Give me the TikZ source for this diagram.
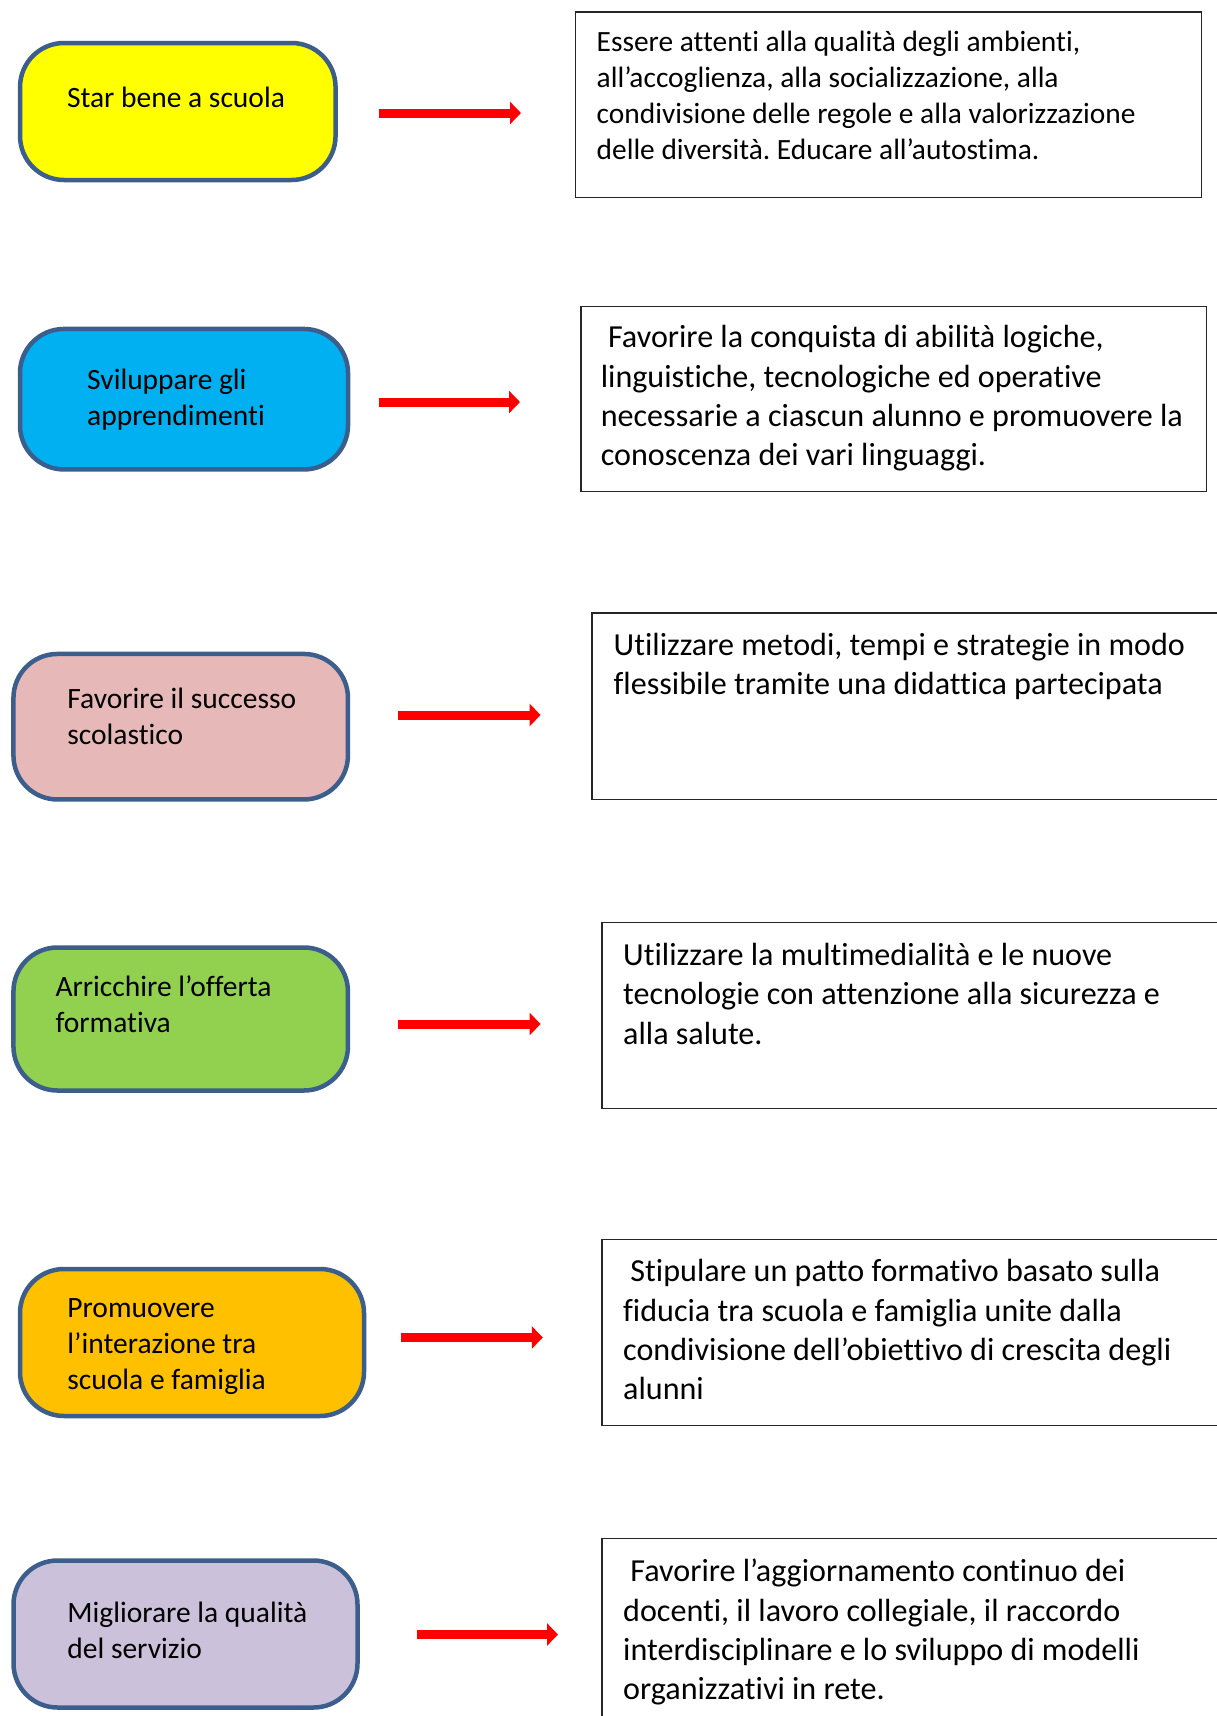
\documentclass[tikz,border=0pt]{standalone}
\usepackage{fontspec}
\setmainfont{Carlito}[Ligatures=NoCommon]
\usetikzlibrary{arrows.meta}
\definecolor{boxblue}{HTML}{3B5E8C}
\definecolor{cyellow}{HTML}{FFFF00}
\definecolor{cblue}{HTML}{00B0F0}
\definecolor{cpink}{HTML}{E6B9B8}
\definecolor{cgreen}{HTML}{92D050}
\definecolor{corange}{HTML}{FFC000}
\definecolor{cpurple}{HTML}{CCC1DA}
\definecolor{cred}{HTML}{FF0000}
\frenchspacing
\begin{document}
\begin{tikzpicture}[x=1pt,y=-1pt,
  leftbox/.style={draw=boxblue, line width=4.5pt, rounded corners=44pt, inner sep=0pt, outer sep=0pt},
  rightbox/.style={draw=black!85, line width=1.3pt, inner sep=0pt, outer sep=0pt},
  ltext/.style={anchor=base west, align=left, inner sep=0pt, font=\fontsize{29.5}{36}\selectfont},
  rtext/.style={anchor=base west, align=left, inner sep=0pt, font=\fontsize{32.1}{39.4}\selectfont},
  rtextsmall/.style={anchor=base west, align=left, inner sep=0pt, font=\fontsize{29.4}{35.8}\selectfont},
  redarrow/.style={draw=cred, line width=9pt, -{Triangle[length=11pt,width=22pt]}}]
\useasboundingbox (0,0) rectangle (1217,1716);
\fill[white] (0,0) rectangle (1217,1716);
\clip (0,0) rectangle (1217,1716);

% left boxes
\node[leftbox, fill=cyellow, minimum width=315.5pt, minimum height=137pt] (L1) at (177.8,111.5) {};
\node[leftbox, fill=cblue, minimum width=328pt, minimum height=140.5pt] (L2) at (184,399.2) {};
\node[leftbox, fill=cpink, minimum width=334.5pt, minimum height=145.5pt] (L3) at (180.7,726.7) {};
\node[leftbox, fill=cgreen, minimum width=334.5pt, minimum height=143pt] (L4) at (180.7,1019) {};
\node[leftbox, fill=corange, minimum width=344pt, minimum height=147pt] (L5) at (192,1342.5) {};
\node[leftbox, fill=cpurple, minimum width=344pt, minimum height=147pt] (L6) at (185.5,1634) {};

% left texts (anchor = baseline of last line)
\node[ltext] (L1t) at (66.8,107) {Star bene a scuola};
\node[ltext] (L2t) at (87,425.5) {Sviluppare gli\\apprendimenti};
\node[ltext] (L3t) at (67.2,744.8) {Favorire il successo\\scolastico};
\node[ltext] (L4t) at (55.3,1032.5) {Arricchire l’offerta\\formativa};
\node[ltext] (L5t) at (67.2,1389.8) {Promuovere\\l’interazione tra\\scuola e famiglia};
\node[ltext] (L6t) at (67.2,1658.2) {Migliorare la qualità\\del servizio};

% right boxes
\node[rightbox, minimum width=626pt, minimum height=185.5pt] (R1) at (888.7,104.75) {};
\node[rightbox, minimum width=625.5pt, minimum height=185pt] (R2) at (893.75,398.95) {};
\node[rightbox, minimum width=648pt, minimum height=186.4pt] (R3) at (916,706.1) {};
\node[rightbox, minimum width=638pt, minimum height=186pt] (R4) at (921,1015.6) {};
\node[rightbox, minimum width=638pt, minimum height=186pt] (R5) at (921,1332.5) {};
\node[rightbox, minimum width=638pt, minimum height=221.5pt] (R6) at (921,1649.25) {};

% right texts (anchor = baseline of last line)
\node[rtextsmall] (R1t) at (596.5,159.1) {Essere attenti alla qualità degli ambienti,\\all’accoglienza, alla socializzazione, alla\\condivisione delle regole e alla valorizzazione\\delle diversità. Educare all’autostima.};
\node[rtext] (R2t) at (600.6,465.9) {\ Favorire la conquista di abilità logiche,\\linguistiche, tecnologiche ed operative\\necessarie a ciascun alunno e promuovere la\\conoscenza dei vari linguaggi.};
\node[rtext] (R3t) at (613.5,694.9) {Utilizzare metodi, tempi e strategie in modo\\flessibile tramite una didattica partecipata};
\node[rtext] (R4t) at (623,1044.3) {Utilizzare la multimedialità e le nuove\\tecnologie con attenzione alla sicurezza e\\alla salute.};
\node[rtext] (R5t) at (623,1399.9) {\ Stipulare un patto formativo basato sulla\\fiducia tra scuola e famiglia unite dalla\\condivisione dell’obiettivo di crescita degli\\alunni};
\node[rtext] (R6t) at (623,1699.9) {\ Favorire l’aggiornamento continuo dei\\docenti, il lavoro collegiale, il raccordo\\interdisciplinare e lo sviluppo di modelli\\organizzativi in rete.};

% arrows
\coordinate (a1s) at (378.7,113);  \coordinate (a1e) at (521,113);
\coordinate (a2s) at (378.7,402);  \coordinate (a2e) at (520,402);
\coordinate (a3s) at (398.4,715);  \coordinate (a3e) at (540.6,715);
\coordinate (a4s) at (398.4,1024); \coordinate (a4e) at (540.6,1024);
\coordinate (a5s) at (400.5,1337.5); \coordinate (a5e) at (542.8,1337.5);
\coordinate (a6s) at (417,1634.5); \coordinate (a6e) at (558,1634.5);
\draw[redarrow] (a1s) -- (a1e);
\draw[redarrow] (a2s) -- (a2e);
\draw[redarrow] (a3s) -- (a3e);
\draw[redarrow] (a4s) -- (a4e);
\draw[redarrow] (a5s) -- (a5e);
\draw[redarrow] (a6s) -- (a6e);
\end{tikzpicture}
\end{document}
